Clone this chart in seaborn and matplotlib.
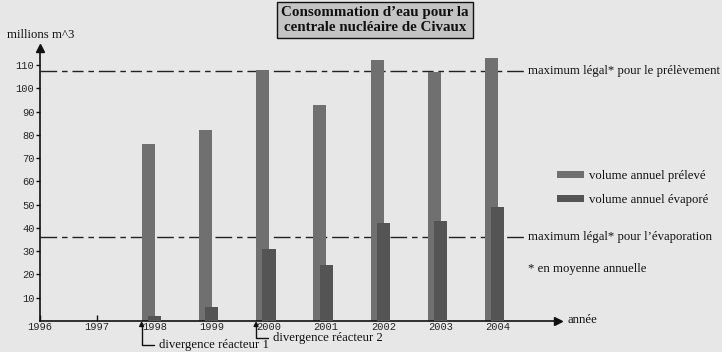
import matplotlib
matplotlib.use("Agg")
import matplotlib.pyplot as plt
import seaborn as sns
import pandas as pd
from matplotlib.patches import Patch

# ---- data ----
years = [1998, 1999, 2000, 2001, 2002, 2003, 2004]
preleve = [76, 82, 108, 93, 112, 107, 113]
evapore = [2, 6, 31, 24, 42, 43, 49]
axis_years = [1996, 1997, 1998, 1999, 2000, 2001, 2002, 2003, 2004]
y_ticks = [10, 20, 30, 40, 50, 60, 70, 80, 90, 100, 110]
max_prelevement = 107.5
max_evaporation = 36
divergence_years = [1998, 2000]
divergence_labels = ["divergence réacteur 1", "divergence réacteur 2"]
title = "Consommation d’eau pour la\ncentrale nucléaire de Civaux"
series_labels = ["volume annuel prélevé", "volume annuel évaporé"]
max_labels = ["maximum légal* pour le prélèvement", "maximum légal* pour l’évaporation"]
note = "* en moyenne annuelle"
y_label = "millions m^3"
x_label = "année"

sns.set_theme(style="white")
plt.rcParams["font.family"] = ["Liberation Serif", "DejaVu Serif"]

W, H = 722, 352
fig = plt.figure(figsize=(W / 100, H / 100), dpi=100)
bg = "#e7e7e7"
fig.patch.set_facecolor(bg)

def fx(px):
    return px / W

def fy(py):
    return 1 - py / H

ax = fig.add_axes([fx(40), fy(321), fx(558) - fx(40), fy(47.6) - fy(321)])
ax.set_facecolor("none")

c_prel = "#707070"
c_evap = "#545454"
bw = 0.23
off_prel = -0.11
off_evap = 0.0
fs = 9.2

df = pd.DataFrame({"year": years, "preleve": preleve, "evapore": evapore})
df["x_prel"] = df["year"] + off_prel
df["x_evap"] = df["year"] + off_evap

# dashed legal maxima (behind bars)
line_end = 2004.45
dash = (0, (12, 3.5, 4, 3.5, 8, 3.5, 4, 3.5))
for val in (max_prelevement, max_evaporation):
    ax.hlines(val, 1996, line_end, colors="#222222", linewidth=1.0,
              linestyles=[dash], zorder=1, clip_on=False)

sns.barplot(data=df, x="x_prel", y="preleve", native_scale=True, color=c_prel,
            saturation=1, width=bw, errorbar=None, ax=ax, zorder=2)
sns.barplot(data=df, x="x_evap", y="evapore", native_scale=True, color=c_evap,
            saturation=1, width=bw, errorbar=None, ax=ax, zorder=3)
for p in ax.patches:
    p.set_edgecolor("none")

ax.set_xlim(1996, 2005.05)
ax.set_ylim(0, 117.5)
ax.set_xlabel("")
ax.set_ylabel("")

for s in ["top", "right"]:
    ax.spines[s].set_visible(False)
for s in ["left", "bottom"]:
    ax.spines[s].set_color("#111111")
    ax.spines[s].set_linewidth(1.2)

ax.set_xticks(axis_years)
ax.set_xticklabels([str(y) for y in axis_years], fontfamily="Liberation Mono", fontsize=7.5)
ax.set_yticks(y_ticks)
ax.set_yticklabels([str(v) for v in y_ticks], fontfamily="Liberation Mono", fontsize=7.5)
ax.tick_params(axis="x", direction="in", length=4, width=1, color="#111111", pad=1)
ax.tick_params(axis="y", direction="out", length=3, width=1, color="#111111", pad=1)
ax.tick_params(axis="x", which="both", bottom=True)
ax.tick_params(axis="y", which="both", left=True)

# axis arrows
ax.plot(1, 0, marker=">", color="#111111", markersize=6, transform=ax.transAxes, clip_on=False)
ax.plot(0, 1, marker="^", color="#111111", markersize=6, transform=ax.transAxes, clip_on=False)

# labels for dashed lines
for val, lab in zip((max_prelevement, max_evaporation), max_labels):
    ax.text(line_end + 0.07, val, lab, ha="left", va="center", fontsize=fs, color="#111111",
            clip_on=False)

# divergence annotations
for yr, lab, dy in zip(divergence_years, divergence_labels, (-24, -17)):
    ax.annotate(lab, xy=(yr + off_prel - bw / 2, 0), xycoords="data",
                xytext=(17, dy), textcoords="offset pixels",
                ha="left", va="center", fontsize=fs, color="#111111",
                annotation_clip=False,
                arrowprops=dict(arrowstyle="-|>", color="#111111", lw=1,
                                mutation_scale=7, shrinkA=1, shrinkB=0,
                                relpos=(0, 0.5),
                                connectionstyle="angle,angleA=0,angleB=90,rad=0"))

# axis texts
fig.text(fx(7), fy(35), y_label, ha="left", va="center", fontsize=fs, color="#111111")
fig.text(fx(567), fy(320), x_label, ha="left", va="center", fontsize=fs, color="#111111")
fig.text(fx(528), fy(269), note, ha="left", va="center", fontsize=fs, color="#111111")

# title box
fig.text(fx(375), fy(20), title, ha="center", va="center", fontsize=10.8, fontweight="bold",
         color="#111111", linespacing=1.12,
         bbox=dict(boxstyle="square,pad=0.3", fc="#c4c4c4", ec="#111111", lw=1))

# legend
handles = [Patch(facecolor=c_prel, edgecolor="none"), Patch(facecolor=c_evap, edgecolor="none")]
leg = fig.legend(handles, series_labels, loc="upper left",
                 bbox_to_anchor=(fx(557), fy(170)), bbox_transform=fig.transFigure,
                 frameon=False, fontsize=fs, handlelength=2.1, handleheight=0.55,
                 handletextpad=0.4, labelspacing=0.95, borderpad=0, borderaxespad=0)
for t in leg.get_texts():
    t.set_color("#111111")

fig.savefig("out.png", dpi=100, facecolor=bg)
